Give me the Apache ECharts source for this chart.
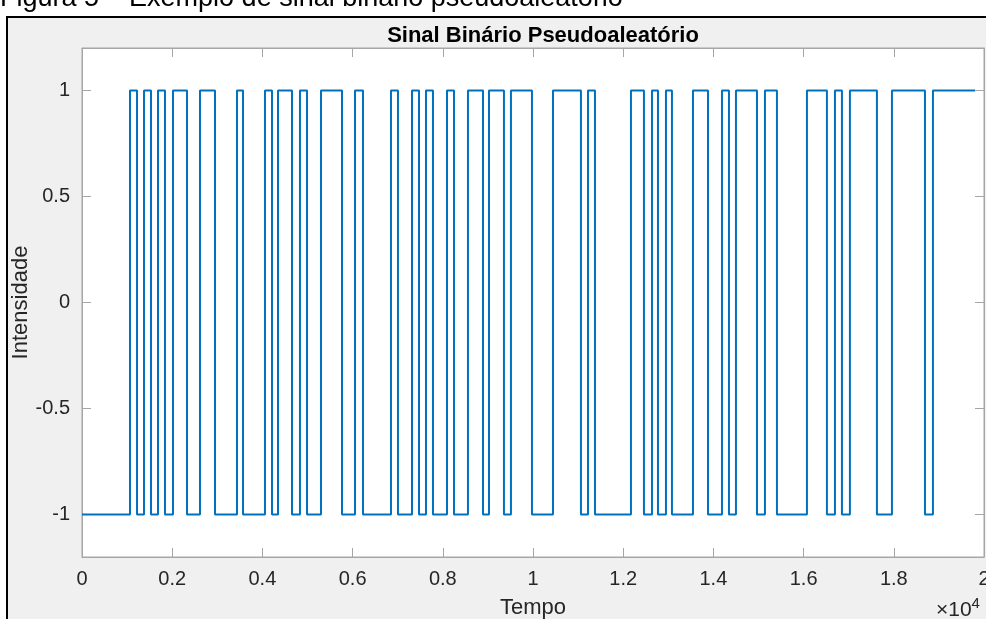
<!DOCTYPE html>
<html>
<head>
<meta charset="utf-8">
<script src="https://cdn.jsdelivr.net/npm/echarts@6/dist/echarts.min.js"></script>
<style>
html,body{margin:0;padding:0;background:#fff;overflow:hidden;}
#chart{width:986px;height:619px;}
</style>
</head>
<body>
<div id="chart"></div>
<script>
// Transition times (Tempo) and the signal level that starts at each time
const switchTimes = [0, 1064, 1220, 1375, 1530, 1685, 1840, 2018, 2328, 2616, 2949, 3437, 3570, 4057, 4213, 4346, 4656, 4833, 4989, 5299, 5765, 6053, 6230, 6851, 7006, 7317, 7472, 7627, 7782, 8093, 8248, 8558, 8891, 9024, 9356, 9511, 9977, 10443, 11063, 11219, 11374, 12172, 12460, 12638, 12771, 12948, 13081, 13547, 13880, 14190, 14345, 14500, 14966, 15143, 15409, 16074, 16517, 16695, 16850, 17027, 17626, 17959, 18691, 18868, 19800];
const levels = [-1, 1, -1, 1, -1, 1, -1, 1, -1, 1, -1, 1, -1, 1, -1, 1, -1, 1, -1, 1, -1, 1, -1, 1, -1, 1, -1, 1, -1, 1, -1, 1, -1, 1, -1, 1, -1, 1, -1, 1, -1, 1, -1, 1, -1, 1, -1, 1, -1, 1, -1, 1, -1, 1, -1, 1, -1, 1, -1, 1, -1, 1, -1, 1, 1];
const xTicks = [0, 2000, 4000, 6000, 8000, 10000, 12000, 14000, 16000, 18000, 20000];
const xTickLabels = ['0', '0.2', '0.4', '0.6', '0.8', '1', '1.2', '1.4', '1.6', '1.8', '2'];
const yTicks = [-1, -0.5, 0, 0.5, 1];
const titleText = 'Sinal Binário Pseudoaleatório';
const xName = 'Tempo';
const yName = 'Intensidade';
const captionText = 'Figura 5 – Exemplo de sinal binário pseudoaleatório';

const seriesData = switchTimes.map((t, i) => [t, levels[i]]);
const font = '"Liberation Sans", Arial, sans-serif';
const axisGray = '#a6a6a6';
const textCol = '#262626';

const chart = echarts.init(document.getElementById('chart'), null, {renderer: 'canvas'});

const xLabelMap = {};
xTicks.forEach((v, i) => { xLabelMap[v] = xTickLabels[i]; });

const option = {
  backgroundColor: '#f0f0f0',
  animation: false,
  title: {
    text: titleText,
    left: 538, top: 20, textAlign: 'center',
    textStyle: {fontFamily: font, fontSize: 22, fontWeight: 'bold', color: '#000'}
  },
  grid: {
    left: 82, top: 48, width: 902, height: 509,
    show: true, backgroundColor: '#fff', borderColor: axisGray, borderWidth: 1,
    containLabel: false, outerBoundsMode: 'none'
  },
  xAxis: [{
    type: 'value', min: 0, max: 20000,
    axisLine: {show: true, onZero: false, lineStyle: {color: axisGray, width: 1}},
    axisTick: {show: true, inside: true, length: 9, customValues: xTicks, lineStyle: {color: axisGray}},
    axisLabel: {customValues: xTicks, formatter: v => xLabelMap[v], color: textCol, fontSize: 20, fontFamily: font, margin: 12, hideOverlap: false},
    splitLine: {show: false},
    name: xName, nameLocation: 'middle', nameGap: 40, nameMoveOverlap: false,
    nameTextStyle: {color: textCol, fontSize: 22, fontFamily: font}
  }, {
    type: 'value', min: 0, max: 20000, position: 'top',
    axisLine: {show: true, onZero: false, lineStyle: {color: axisGray, width: 1}},
    axisTick: {show: true, inside: true, length: 9, customValues: xTicks, lineStyle: {color: axisGray}},
    axisLabel: {show: false}, splitLine: {show: false}
  }],
  yAxis: [{
    type: 'value', min: -1.2, max: 1.2,
    axisLine: {show: true, onZero: false, lineStyle: {color: axisGray, width: 1}},
    axisTick: {show: true, inside: true, length: 9, customValues: yTicks, lineStyle: {color: axisGray}},
    axisLabel: {customValues: yTicks, color: textCol, fontSize: 20, fontFamily: font, margin: 12},
    splitLine: {show: false},
    name: yName, nameLocation: 'middle', nameGap: 50, nameMoveOverlap: false,
    nameTextStyle: {color: textCol, fontSize: 22, fontFamily: font}
  }, {
    type: 'value', min: -1.2, max: 1.2, position: 'right',
    axisLine: {show: true, onZero: false, lineStyle: {color: axisGray, width: 1}},
    axisTick: {show: true, inside: true, length: 9, customValues: yTicks, lineStyle: {color: axisGray}},
    axisLabel: {show: false}, splitLine: {show: false}
  }],
  series: [{
    type: 'line', step: 'end', data: seriesData,
    xAxisIndex: 0, yAxisIndex: 0,
    symbol: 'none', lineStyle: {color: '#0072BD', width: 2},
    clip: true
  }],
  graphic: [
    {type: 'rect', shape: {x: 0, y: 0, width: 986, height: 16}, style: {fill: '#fff'}, z: 100},
    {type: 'rect', shape: {x: 0, y: 0, width: 6, height: 619}, style: {fill: '#fff'}, z: 100},
    {type: 'line', shape: {x1: 6, y1: 17, x2: 986, y2: 17}, style: {stroke: '#000', lineWidth: 2}, z: 101},
    {type: 'line', shape: {x1: 7, y1: 16, x2: 7, y2: 619}, style: {stroke: '#000', lineWidth: 2}, z: 101},
    {type: 'text', left: 0, top: -15, z: 102,
      style: {text: captionText, fill: '#000', font: '27px "Liberation Sans", Arial, sans-serif'}},
    {type: 'text', left: 936, top: 596, z: 102,
      style: {text: '×10{s|4}', fill: textCol, fontFamily: font, fontSize: 21,
        rich: {s: {fontSize: 15, fontFamily: font, fill: textCol, verticalAlign: 'top', padding: [0,0,14,0]}}}}
  ]
};
chart.setOption(option);
</script>
</body>
</html>
